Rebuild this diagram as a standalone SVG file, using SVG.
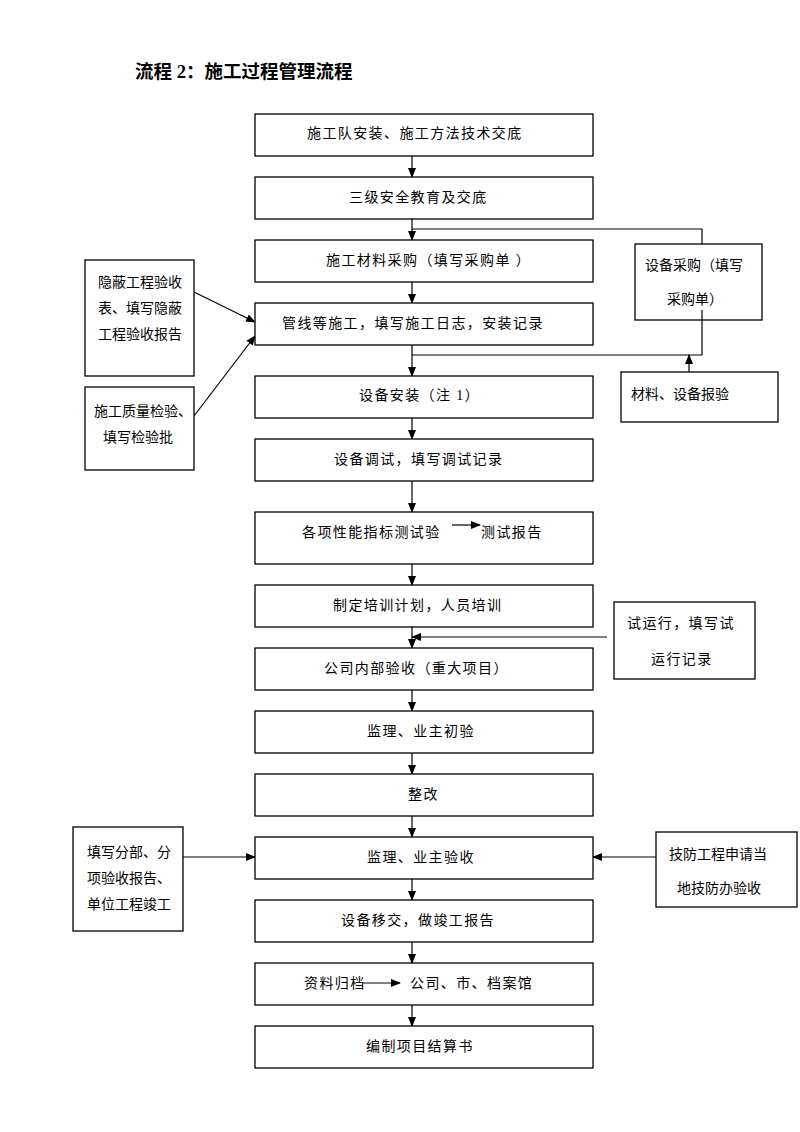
<svg xmlns="http://www.w3.org/2000/svg" width="800" height="1132" viewBox="0 0 800 1132">
<defs>
<style>
rect{fill:#fff;stroke:#000;stroke-width:1.3}
text{font-family:"Liberation Serif","Noto Sans CJK SC",serif;font-size:14px;fill:#000}
.m{letter-spacing:1.4px}
.s{font-size:14px}
.t{font-size:18.5px;font-weight:bold}
line,polyline{stroke:#000;stroke-width:1.2;fill:none}
</style>
<marker id="a" markerWidth="10" markerHeight="10" refX="9" refY="5" orient="auto" markerUnits="userSpaceOnUse">
<path d="M0,1 L10,5 L0,9 z" fill="#000"/>
</marker>
</defs>
<rect x="0" y="0" width="800" height="1132" style="stroke:none"/>
<text class="t" x="135" y="78">流程 2：施工过程管理流程</text>

<g id="connectors">
<line x1="412" y1="156" x2="412" y2="177" marker-end="url(#a)"/>
<line x1="412" y1="219" x2="412" y2="240" marker-end="url(#a)"/>
<line x1="412" y1="282" x2="412" y2="303" marker-end="url(#a)"/>
<line x1="412" y1="345" x2="412" y2="376" marker-end="url(#a)"/>
<line x1="412" y1="418" x2="412" y2="439" marker-end="url(#a)"/>
<line x1="412" y1="481" x2="412" y2="512" marker-end="url(#a)"/>
<line x1="412" y1="564" x2="412" y2="585" marker-end="url(#a)"/>
<line x1="412" y1="627" x2="412" y2="648" marker-end="url(#a)"/>
<line x1="412" y1="690" x2="412" y2="711" marker-end="url(#a)"/>
<line x1="412" y1="753" x2="412" y2="774" marker-end="url(#a)"/>
<line x1="412" y1="816" x2="412" y2="837" marker-end="url(#a)"/>
<line x1="412" y1="879" x2="412" y2="900" marker-end="url(#a)"/>
<line x1="412" y1="942" x2="412" y2="963" marker-end="url(#a)"/>
<line x1="412" y1="1005" x2="412" y2="1026" marker-end="url(#a)"/>
<polyline points="412,229 702,229 702,244"/>
<polyline points="702,310 702,355 412,355"/>
<line x1="689" y1="372" x2="689" y2="355" marker-end="url(#a)"/>
<line x1="194" y1="292" x2="255" y2="322" marker-end="url(#a)"/>
<line x1="194" y1="416" x2="255" y2="336" marker-end="url(#a)"/>
<line x1="607" y1="637" x2="412" y2="637" marker-end="url(#a)"/>
<line x1="183" y1="857" x2="255" y2="857" marker-end="url(#a)"/>
<line x1="656" y1="857" x2="593" y2="857" marker-end="url(#a)"/>
</g>

<g id="n1"><rect x="255" y="114" width="338" height="42"/><text class="m" x="307" y="138">施工队安装、施工方法技术交底</text></g>
<g id="n2"><rect x="255" y="177" width="338" height="42"/><text class="m" x="349" y="202">三级安全教育及交底</text></g>
<g id="n3"><rect x="255" y="240" width="338" height="42"/><text class="m" x="326" y="265">施工材料采购（填写采购单 ）</text></g>
<g id="n4"><rect x="255" y="303" width="338" height="42"/><text class="m" x="282" y="328">管线等施工，填写施工日志，安装记录</text></g>
<g id="n5"><rect x="255" y="376" width="338" height="42"/><text class="m" x="359" y="400">设备安装（注  1）</text></g>
<g id="n6"><rect x="255" y="439" width="338" height="42"/><text class="m" x="334" y="464">设备调试，填写调试记录</text></g>
<g id="n7"><rect x="255" y="512" width="338" height="52"/><text class="m" x="302" y="537">各项性能指标测试验</text><line x1="452" y1="525" x2="480" y2="525" marker-end="url(#a)"/><text class="m" x="481" y="537">测试报告</text></g>
<g id="n8"><rect x="255" y="585" width="338" height="42"/><text class="m" x="333" y="610">制定培训计划，人员培训</text></g>
<g id="n9"><rect x="255" y="648" width="338" height="42"/><text class="m" x="324" y="673">公司内部验收（重大项目）</text></g>
<g id="n10"><rect x="255" y="711" width="338" height="42"/><text class="m" x="367" y="736">监理、业主初验</text></g>
<g id="n11"><rect x="255" y="774" width="338" height="42"/><text class="m" x="408" y="799">整改</text></g>
<g id="n12"><rect x="255" y="837" width="338" height="42"/><text class="m" x="367" y="862">监理、业主验收</text></g>
<g id="n13"><rect x="255" y="900" width="338" height="42"/><text class="m" x="341" y="925">设备移交，做竣工报告</text></g>
<g id="n14"><rect x="255" y="963" width="338" height="42"/><text class="m" x="304" y="988">资料归档</text><line x1="363" y1="983" x2="400" y2="983" marker-end="url(#a)"/><text class="m" x="410" y="988">公司、市、档案馆</text></g>
<g id="n15"><rect x="255" y="1026" width="338" height="42"/><text class="m" x="366" y="1051">编制项目结算书</text></g>

<g id="s1"><rect x="85" y="260" width="109" height="116"/><text class="s" x="98" y="287">隐蔽工程验收</text><text class="s" x="98" y="313">表、填写隐蔽</text><text class="s" x="98" y="339">工程验收报告</text></g>
<g id="s2"><rect x="85" y="387" width="109" height="83"/><text class="s" x="94" y="416">施工质量检验、</text><text class="s" x="103" y="442">填写检验批</text></g>
<g id="s3"><rect x="635" y="244" width="127" height="76"/><text class="s" x="645" y="270">设备采购（填写</text><text class="s" x="667" y="304">采购单）</text><line x1="702" y1="310" x2="702" y2="320"/></g>
<g id="s4"><rect x="621" y="372" width="157" height="50"/><text class="s" x="631" y="399">材料、设备报验</text></g>
<g id="s5"><rect x="614" y="602" width="141" height="77"/><text class="m" x="627" y="628">试运行，填写试</text><text class="m" x="651" y="664">运行记录</text></g>
<g id="s6"><rect x="73" y="827" width="110" height="104"/><text class="s" x="87" y="857">填写分部、分</text><text class="s" x="87" y="883">项验收报告、</text><text class="s" x="87" y="909">单位工程竣工</text></g>
<g id="s7"><rect x="656" y="832" width="141" height="75"/><text class="s" x="669" y="859">技防工程申请当</text><text class="s" x="677" y="893">地技防办验收</text></g>
</svg>
